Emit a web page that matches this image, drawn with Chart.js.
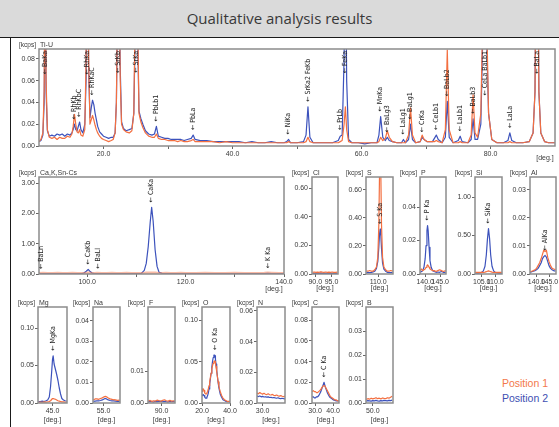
<!DOCTYPE html>
<html>
<head>
<meta charset="utf-8">
<title>Qualitative analysis results</title>
<script src="https://cdn.jsdelivr.net/npm/chart.js@4.4.1/dist/chart.umd.min.js"></script>
<style>
  body { margin: 0; background: #fff; }
  #page { position: relative; width: 559px; height: 427px; overflow: hidden; background: #fff; }
  #title { position: absolute; left: 0; top: 0; width: 559px; height: 38px; background: #dadada;
           border-bottom: 1px solid #1a1a1a; box-sizing: border-box;
           font: 15px "Open Sans", sans-serif; color: #383838; text-align: center; line-height: 36px; }
  #edge { position: absolute; left: 10px; top: 37px; width: 1px; height: 390px; background: #1a1a1a; }
  canvas { position: absolute; }
  .pos { position: absolute; right: 11px; font: 10.5px "Liberation Sans", Arial, sans-serif; }
</style>
</head>
<body>
<div id="page">
  <div id="title">Qualitative analysis results</div>
  <div id="edge"></div>
  <div class="pos" style="top:377px;color:#f3784c">Position 1</div>
  <div class="pos" style="top:392px;color:#3e4fb2">Position 2</div>
</div>
<script>
// ---- Ti-U channel, 2theta [deg.] ----
var mainDeg = [10.0,10.3,10.6,10.8,10.95,11.1,11.3,11.6,12.0,12.4,
  12.8,13.2,13.6,14.0,14.4,14.8,15.1,15.3,15.5,15.7,
  15.9,16.1,16.3,16.5,16.8,17.1,17.3,17.5,17.7,17.9,
  18.1,18.3,18.5,18.7,18.9,19.1,19.4,19.7,20.0,20.4,
  20.8,21.2,21.5,21.8,22.0,22.3,22.6,22.8,23.1,23.5,
  24.0,24.4,24.7,24.9,25.1,25.3,25.5,25.8,26.1,26.5,
  27.0,27.5,27.9,28.2,28.5,29.0,29.5,30.0,30.5,31.0,
  31.5,32.0,32.5,33.0,33.6,33.9,34.2,35.0,36.0,37.0,
  38.0,39.0,40.0,41.0,42.0,43.0,44.0,45.0,46.0,47.0,
  48.0,48.4,48.7,49.0,50.0,51.0,51.4,51.7,52.0,52.5,
  53.5,54.5,55.5,56.4,56.7,57.0,57.3,57.5,57.7,58.0,
  58.5,59.5,60.5,61.5,62.4,62.7,62.97,63.3,63.7,64.0,
  64.3,64.8,65.5,66.2,66.5,66.8,67.3,67.6,67.9,68.4,
  69.1,69.4,69.7,70.2,71.0,71.3,71.6,71.9,72.5,73.0,
  73.3,73.6,74.2,75.0,75.3,75.6,76.5,77.0,77.3,77.6,
  78.0,78.5,78.8,79.1,79.4,79.7,80.2,81.0,82.0,82.7,
  83.0,83.3,84.0,85.0,86.0,86.6,86.9,87.2,87.5,87.8,
  88.4,89.0,90.0];
var mainP1 = [.004,.006,.012,.050,.200,.060,.015,.008,.007,.008,
  .006,.008,.007,.007,.009,.008,.011,.018,.029,.020,
  .013,.012,.015,.010,.009,.015,.080,.250,.080,.020,
  .024,.028,.024,.019,.015,.012,.009,.007,.006,.005,
  .004,.005,.006,.012,.040,.200,.060,.020,.015,.013,
  .012,.014,.030,.120,.300,.120,.030,.022,.017,.012,
  .009,.008,.008,.011,.007,.006,.006,.005,.005,.005,
  .004,.005,.004,.004,.005,.006,.004,.004,.004,.004,
  .003,.004,.003,.003,.003,.003,.003,.003,.003,.003,
  .003,.003,.004,.003,.003,.003,.004,.008,.004,.003,
  .003,.003,.003,.003,.004,.005,.020,.036,.015,.004,
  .003,.003,.003,.003,.003,.004,.008,.005,.007,.014,
  .008,.004,.003,.003,.003,.003,.010,.035,.010,.003,
  .004,.010,.006,.004,.004,.004,.005,.004,.003,.015,
  .088,.015,.003,.003,.004,.003,.003,.010,.047,.012,
  .008,.030,.120,.300,.120,.030,.006,.003,.003,.003,
  .004,.003,.003,.003,.004,.012,.050,.300,.050,.012,
  .004,.003,.003];
var mainP2 = [.004,.005,.010,.040,.150,.050,.014,.009,.010,.009,
  .011,.010,.011,.009,.011,.010,.012,.015,.020,.015,
  .014,.018,.022,.015,.012,.020,.060,.200,.070,.026,
  .035,.042,.038,.030,.024,.018,.013,.011,.009,.008,
  .007,.008,.008,.012,.040,.200,.070,.022,.016,.014,
  .015,.016,.030,.100,.250,.100,.032,.025,.020,.014,
  .011,.010,.011,.018,.009,.008,.007,.007,.006,.006,
  .006,.006,.005,.006,.007,.010,.006,.005,.005,.004,
  .004,.004,.004,.004,.003,.004,.003,.003,.004,.003,
  .003,.004,.006,.003,.003,.004,.010,.036,.008,.003,
  .003,.003,.003,.005,.009,.010,.080,.200,.060,.006,
  .003,.003,.002,.003,.003,.010,.027,.008,.005,.008,
  .005,.004,.003,.003,.006,.003,.006,.020,.006,.003,
  .004,.008,.006,.004,.004,.007,.010,.006,.003,.008,
  .041,.008,.003,.005,.009,.004,.003,.006,.025,.006,
  .006,.020,.100,.300,.100,.030,.006,.003,.003,.005,
  .012,.005,.003,.003,.004,.012,.050,.300,.050,.012,
  .004,.003,.003];
var mainPeaks = [['BaKa',10.95],['RhKb',15.5],['RhKbC',16.3],['RhKa',17.5],['RhKaC',18.3],
  ['SrKb',22.3],['SrKa',25.1],['PbLb1',28.2],['PbLa',33.9],['NiKa',48.7],['SrKa2 FeKb',51.7],
  ['PrLb',56.7],['FeKa',57.5],['MnKa',62.97],['BaLg3',64.0],['LaLg1',66.5],['BaLg1',67.6],
  ['CrKa',69.4],['CeLb1',71.6],['BaLb2',73.3],['LaLb1',75.3],['BaLb3',77.3],['CeLa BaLb1',79.1],
  ['LaLa',83.0],['BaLa',87.2]];
var mainXTicks = [20,30,40,50,60,70,80], mainXLabels = [20,40,60,80];
var mainYTicks = [0,.02,.04,.06,.08];

// ---- Ca,K,Sn-Cs channel ----
var caDeg = [90.2,91,92,93,94,95,96,97,98,99,
  99.4,99.8,100.2,100.6,101,101.5,102,103,104,105,
  106,107,108,109,110,111,111.6,112,112.4,112.8,
  113.1,113.4,113.8,114.2,114.6,115.2,116,117,118,119,
  120,122,124,126,128,130,132,134,136,136.7,
  137.5,139,140];
var caP1 = [.02,.025,.02,.02,.025,.02,.02,.025,.02,.02,
  .02,.025,.03,.025,.02,.02,.025,.02,.02,.025,
  .02,.02,.025,.02,.02,.02,.025,.03,.03,.035,
  .035,.03,.03,.025,.02,.02,.025,.02,.02,.025,
  .02,.02,.025,.02,.02,.025,.02,.02,.025,.03,
  .025,.02,.02];
var caP2 = [.01,.01,.01,.01,.01,.01,.01,.01,.01,.015,
  .04,.09,.15,.08,.03,.015,.01,.01,.01,.01,
  .01,.01,.01,.01,.01,.02,.12,.35,.9,1.7,
  2.2,1.75,.8,.25,.06,.02,.01,.01,.01,.01,
  .01,.01,.01,.01,.01,.01,.01,.01,.012,.025,
  .012,.01,.01];
var caPeaks = [['BaLn',90.6],['CaKb',100.2],['BaLl',102.3],['CaKa',113.1],['K Ka',136.7]];

// ---- Cl ----
var clDeg = [89.2,89.7,90.2,90.7,91.2,91.7,92.2,92.7,93.2,93.7,94.2,94.7,95.2,95.7,96.2,96.8];
var clP1 = [.012,.014,.011,.013,.012,.015,.013,.012,.014,.011,.013,.012,.014,.012,.011,.013];
var clP2 = [.004,.005,.004,.005,.004,.006,.005,.004,.005,.004,.005,.004,.005,.004,.005,.004];

// ---- S ----
var sDeg = [106.5,107,107.5,108,108.5,109,109.5,109.9,110.2,110.4,110.6,110.8,111.0,111.3,111.7,112.2,112.7,113.2,113.7,114.3];
var sP1 = [.02,.02,.025,.02,.02,.03,.05,.12,.35,.7,.9,.7,.35,.12,.05,.03,.02,.02,.025,.02];
var sP2 = [.01,.01,.01,.012,.015,.02,.04,.09,.19,.28,.32,.27,.18,.08,.035,.02,.012,.01,.01,.01];

// ---- P ----
var pDeg = [138.4,138.8,139.2,139.6,140.0,140.3,140.6,140.8,141.0,141.3,141.6,142.0,142.5,143.0,143.6,144.2,144.8,145.4,146.0,146.8];
var pP1 = [.002,.003,.002,.0025,.003,.004,.005,.0055,.005,.004,.003,.0025,.002,.002,.0015,.002,.0025,.002,.0015,.002];
var pP2 = [.001,.0015,.002,.004,.009,.017,.026,.029,.026,.016,.008,.004,.002,.0015,.001,.0012,.001,.0015,.001,.001];

// ---- Si ----
var siDeg = [102.6,103.2,103.8,104.4,105.0,105.6,106.2,106.7,107.1,107.5,107.9,108.3,108.8,109.4,110.0,110.6,111.2,111.8,112.4];
var siP1 = [.02,.02,.022,.02,.025,.02,.025,.03,.035,.04,.035,.03,.025,.02,.022,.02,.02,.022,.02];
var siP2 = [.01,.01,.012,.015,.02,.04,.1,.25,.45,.59,.46,.25,.1,.04,.02,.015,.012,.01,.01];

// ---- Al ----
var alDeg = [137.6,138.2,138.8,139.4,140.0,140.6,141.2,141.8,142.3,142.8,143.3,143.8,144.3,144.8,145.4,146.0,146.6,147.3];
var alP1 = [.0008,.001,.0012,.0015,.002,.003,.004,.0055,.007,.0085,.008,.0085,.006,.0045,.003,.002,.0018,.0015];
var alP2 = [.0006,.0008,.001,.0012,.0015,.002,.003,.004,.0055,.0062,.0066,.006,.0045,.003,.002,.0015,.0012,.001];

// ---- Mg ----
var mgDeg = [40.6,41.2,41.8,42.4,43.0,43.5,44.0,44.4,44.8,45.0,45.2,45.5,45.9,46.3,46.7,47.1,47.5,47.9,48.4,48.9,49.4];
var mgP1 = [.001,.0012,.001,.0015,.0012,.0015,.002,.003,.005,.006,.006,.0055,.005,.004,.003,.0025,.002,.0015,.0015,.0012,.001];
var mgP2 = [.002,.002,.0025,.002,.003,.004,.008,.022,.045,.058,.063,.052,.045,.038,.03,.02,.012,.006,.004,.003,.0025];

// ---- Na ----
var naDeg = [51.6,52.2,52.8,53.4,54.0,54.6,55.2,55.6,56.0,56.6,57.2,57.8,58.4,59.0,59.6,60.4];
var naP1 = [.0015,.002,.002,.0018,.0022,.0025,.003,.0032,.003,.0024,.002,.0018,.0016,.0015,.0013,.0014];
var naP2 = [.0008,.0009,.001,.001,.0012,.0015,.002,.0022,.002,.0015,.0012,.001,.001,.0009,.0008,.0008];

// ---- F ----
var fDeg = [85.6,86.2,86.8,87.4,88.0,88.6,89.2,89.8,90.4,91.0,91.6,92.2,92.8,93.4,94.0,94.4];
var fP1 = [.0006,.0008,.0005,.0007,.0006,.0009,.0007,.0006,.0008,.0010,.0007,.0006,.0008,.0006,.0007,.0006];
var fP2 = [.0004,.0005,.0004,.0003,.0005,.0004,.0006,.0005,.0004,.0005,.0004,.0003,.0005,.0004,.0004,.0005];

// ---- O ----
var oDeg = [20.0,20.5,21.0,21.5,22.0,22.5,23.0,23.5,24.0,24.5,25.0,25.5,26.0,26.5,27.0,27.5,28.0,28.5,29.0,29.3,
  29.6,30.0,30.5,31.0,31.5,32.0,32.5,33.0,34.0,35.0,36.0,37.0,38.0,39.0,40.0];
var oP1 = [.014,.017,.017,.015,.012,.011,.011,.012,.014,.017,.021,.026,.031,.036,.041,.045,.048,.05,.051,.05,
  .048,.044,.038,.032,.026,.021,.017,.014,.009,.006,.004,.003,.002,.002,.002];
var oP2 = [.009,.01,.01,.009,.007,.006,.006,.007,.009,.012,.017,.023,.029,.036,.043,.05,.055,.058,.058,.057,
  .053,.047,.04,.032,.025,.019,.015,.011,.007,.004,.003,.002,.0015,.0015,.0015];

// ---- N ----
var nDeg = [28,28.5,29,29.5,30,30.5,31,31.5,32,32.5,33,33.5,34,34.5,35,35.5,36,36.5,37,37.5,38];
var nP1 = [.0065,.006,.0068,.0062,.0058,.0063,.0057,.0055,.006,.0054,.0052,.0056,.005,.0048,.0052,.0047,.0045,.0048,.0044,.0042,.0045];
var nP2 = [.0045,.0042,.0046,.004,.0043,.0039,.0041,.0038,.004,.0036,.0037,.0034,.0036,.0033,.0031,.0034,.003,.0029,.0031,.0028,.0027];

// ---- C ----
var cDeg = [28.4,29,29.6,30.2,30.8,31.4,32,32.6,33.2,33.8,34.4,35,35.6,36.2,36.8,37.4,38,38.6,39.4,40.2,41,41.8,42.6,43.2];
var cP1 = [.011,.012,.011,.011,.01,.01,.011,.012,.013,.015,.016,.017,.016,.014,.012,.01,.008,.006,.005,.004,.003,.003,.002,.002];
var cP2 = [.006,.006,.005,.005,.006,.006,.007,.009,.011,.014,.017,.02,.016,.013,.01,.008,.006,.005,.004,.003,.0025,.002,.002,.002];

// ---- B ----
var bDeg = [47.6,48.2,48.8,49.4,50.0,50.6,51.2,51.8,52.4,53.0,53.6,54.2,54.8,55.4,56.0,56.6,57.2];
var bP1 = [.0015,.0018,.0016,.002,.0017,.0019,.0022,.0018,.002,.0017,.0021,.0019,.0018,.0022,.002,.0024,.0028];
var bP2 = [.0008,.001,.0009,.0008,.001,.0009,.0011,.0009,.0008,.001,.0009,.0011,.001,.0009,.0011,.001,.0012];

var BLUE = 'rgb(60,82,188)', ORANGE = 'rgb(243,111,64)', TXT = '#3a3a3a';

var panels = [
  { name: 'Ti-U', frame: [39, 49, 555, 146], x: [10, 90], y: .089, deg: mainDeg, p1: mainP1, p2: mainP2,
    xt: mainXTicks, xl: mainXLabels, yt: mainYTicks, peaks: mainPeaks, degAt: 'right', degDy: 12 },
  { name: 'Ca,K,Sn-Cs', frame: [39, 177, 284, 274], x: [90.2, 140], y: 3.2, deg: caDeg, p1: caP1, p2: caP2,
    xt: [100, 110, 120, 130, 140], xl: [100, 120, 140], yt: [0, 1, 2, 3], peaks: caPeaks, degAt: 'right', degDy: 15,
    p1Color: 'rgba(244,128,90,0.55)', p1Width: 3 },
  { name: 'Cl', frame: [312, 177, 338, 274], x: [89, 97], y: .68, deg: clDeg, p1: clP1, p2: clP2,
    xt: [90, 95], xl: [90, 95], yt: [0, .2, .4, .6], peaks: [], degDy: 14 },
  { name: 'S', frame: [366, 177, 393, 274], x: [106.4, 114.4], y: .69, deg: sDeg, p1: sP1, p2: sP2,
    xt: [110], xl: [110], yt: [0, .2, .4, .6], peaks: [['S Ka', 110.6]], degDy: 14 },
  { name: 'P', frame: [420, 177, 446, 274], x: [138.3, 146.9], y: .058, deg: pDeg, p1: pP1, p2: pP2,
    xt: [140, 145], xl: [140, 145], yt: [0, .02, .04], peaks: [['P Ka', 140.8]], degDy: 14 },
  { name: 'Si', frame: [475, 177, 502, 274], x: [102.5, 112.5], y: 1.26, deg: siDeg, p1: siP1, p2: siP2,
    xt: [105, 110], xl: [105, 110], yt: [0, .5, 1], peaks: [['SiKa', 107.5]], degDy: 14 },
  { name: 'Al', frame: [530, 177, 556, 274], x: [137.5, 147.5], y: .0346, deg: alDeg, p1: alP1, p2: alP2,
    xt: [140, 145], xl: [140, 145], yt: [0, .01, .02, .03], peaks: [['AlKa', 143.3]], degDy: 14 },
  { name: 'Mg', frame: [38, 307, 67, 403], x: [40.5, 49.5], y: .128, deg: mgDeg, p1: mgP1, p2: mgP2,
    xt: [45], xl: [45], yt: [0, .05, .1], peaks: [['MgKa', 45.2]], degDy: 17 },
  { name: 'Na', frame: [93, 307, 120, 403], x: [51.5, 60.5], y: .0468, deg: naDeg, p1: naP1, p2: naP2,
    xt: [55], xl: [55], yt: [0, .01, .02, .03, .04], peaks: [], degDy: 17 },
  { name: 'F', frame: [148, 307, 175, 403], x: [85.5, 94.5], y: .03, deg: fDeg, p1: fP1, p2: fP2,
    xt: [90], xl: [90], yt: [0, .01], peaks: [], degDy: 17 },
  { name: 'O', frame: [202, 307, 230, 403], x: [20, 40], y: .116, deg: oDeg, p1: oP1, p2: oP2,
    xt: [20, 40], xl: [20, 40], yt: [0, .05, .1], peaks: [['O Ka', 29.3]], degDy: 17 },
  { name: 'N', frame: [257, 307, 285, 403], x: [28, 38], y: .0626, deg: nDeg, p1: nP1, p2: nP2,
    xt: [30], xl: [30], yt: [0, .02, .04, .06], peaks: [], degDy: 17 },
  { name: 'C', frame: [312, 307, 339, 403], x: [28.3, 43.3], y: .0927, deg: cDeg, p1: cP1, p2: cP2,
    xt: [30, 40], xl: [30, 40], yt: [0, .02, .04, .06, .08], peaks: [['C Ka', 35.0]], degDy: 17 },
  { name: 'B', frame: [366, 307, 393, 403], x: [47.5, 57.5], y: .04, deg: bDeg, p1: bP1, p2: bP2,
    xt: [50], xl: [50], yt: [0, .01, .02, .03], peaks: [], degDy: 17 }
];

function xy(deg, vals) {
  return deg.map(function (d, i) { return { x: d, y: vals[i] }; });
}

function makePanel(p) {
  var yw = 27, padTop = 14, xh = 26, padR = 12;
  var fw = p.frame[2] - p.frame[0], fh = p.frame[3] - p.frame[1];
  var cv = document.createElement('canvas');
  cv.width = fw + yw + padR;
  cv.height = fh + padTop + xh;
  cv.style.left = (p.frame[0] - yw) + 'px';
  cv.style.top = (p.frame[1] - padTop) + 'px';
  cv.style.width = cv.width + 'px';
  cv.style.height = cv.height + 'px';
  document.getElementById('page').appendChild(cv);

  var deco = {
    id: 'deco',
    afterDatasetsDraw: function (chart) {
      var ctx = chart.ctx, a = chart.chartArea;
      var xs = chart.scales.x, ys = chart.scales.y;
      ctx.save();
      ctx.strokeStyle = '#8c8c8c';
      ctx.lineWidth = 1.5;
      ctx.strokeRect(a.left, a.top, a.right - a.left, a.bottom - a.top);

      ctx.fillStyle = TXT;
      ctx.textBaseline = 'alphabetic';
      ctx.font = '6.5px "Liberation Sans"';
      ctx.textAlign = 'right';
      ctx.fillText('[kcps]', a.left - 3, a.top - 2.5);
      ctx.font = '7px "Liberation Sans"';
      ctx.textAlign = 'left';
      ctx.fillText(p.name, a.left + 1, a.top - 2.5);

      ctx.textAlign = 'center';
      ctx.textBaseline = 'middle';
      var dx = p.degAt === 'right' ? a.right - 10 : (a.left + a.right) / 2;
      ctx.fillText('[deg.]', dx, a.bottom + p.degDy);

      // line markers, placed above the Position 2 peak
      ctx.font = '7px "DejaVu Sans Condensed", "DejaVu Sans"';
      ctx.fillStyle = '#222';
      p.peaks.forEach(function (pk) {
        var top = 0;
        p.deg.forEach(function (d, i) {
          if (Math.abs(d - pk[1]) < 0.35 && p.p2[i] > top) top = p.p2[i];
        });
        var txt = '\u2190 ' + pk[0];
        var w = ctx.measureText(txt).width;
        var x = xs.getPixelForValue(pk[1]);
        var y = ys.getPixelForValue(Math.min(top, ys.max)) - 5;
        if (y - w < a.top + 2) y = a.top + 2 + w;
        ctx.save();
        ctx.translate(x, y);
        ctx.rotate(-Math.PI / 2);
        ctx.textAlign = 'left';
        ctx.textBaseline = 'middle';
        ctx.fillText(txt, 0, 0);
        ctx.restore();
      });
      ctx.restore();
    }
  };

  var tickFont = { family: 'Liberation Sans', size: 7 };
  new Chart(cv, {
    type: 'line',
    data: {
      datasets: [
        { data: xy(p.deg, p.p2), borderColor: BLUE, borderWidth: 1.2, order: 1 },
        { data: xy(p.deg, p.p1), borderColor: p.p1Color || ORANGE, borderWidth: p.p1Width || 1.2, order: 0 }
      ]
    },
    options: {
      responsive: false,
      animation: false,
      events: [],
      layout: { padding: { left: 0, top: padTop, right: padR, bottom: 0 } },
      elements: { point: { radius: 0 }, line: { tension: 0, borderJoinStyle: 'round' } },
      plugins: { legend: { display: false }, tooltip: { enabled: false } },
      scales: {
        x: {
          type: 'linear', min: p.x[0], max: p.x[1],
          afterFit: function (s) { s.height = xh; },
          afterBuildTicks: function (s) { s.ticks = p.xt.map(function (v) { return { value: v }; }); },
          ticks: {
            autoSkip: false, maxRotation: 0, padding: 1, color: TXT, font: tickFont,
            callback: function (v) { return p.xl.indexOf(v) >= 0 ? v.toFixed(1) : ''; }
          },
          grid: { drawOnChartArea: false, tickLength: 3, color: '#666' },
          border: { display: false }
        },
        y: {
          type: 'linear', min: 0, max: p.y,
          afterFit: function (s) { s.width = yw; },
          afterBuildTicks: function (s) { s.ticks = p.yt.map(function (v) { return { value: v }; }); },
          ticks: {
            padding: 1, color: TXT, font: tickFont,
            callback: function (v) { return v.toFixed(2); }
          },
          grid: { drawOnChartArea: false, tickLength: 3, color: '#666' },
          border: { display: false }
        }
      }
    },
    plugins: [deco]
  });
}

panels.forEach(makePanel);
</script>
</body>
</html>
